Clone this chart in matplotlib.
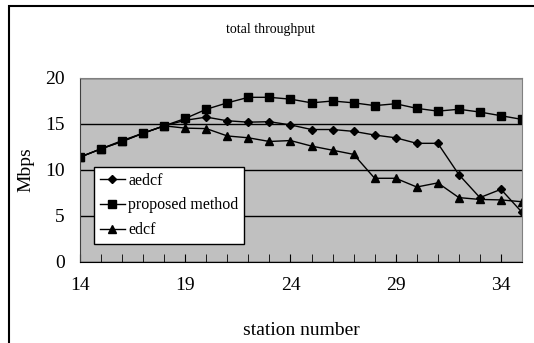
import matplotlib
matplotlib.use("Agg")
import matplotlib.pyplot as plt
from matplotlib.patches import Rectangle

stations = list(range(14, 36))
aedcf = [11.4, 12.3, 13.1, 14.0, 14.8, 15.4, 15.75, 15.35, 15.2, 15.25, 14.9,
         14.4, 14.4, 14.2, 13.8, 13.5, 12.9, 12.9, 9.5, 7.0, 7.9, 5.4]
proposed = [11.4, 12.3, 13.2, 14.0, 14.8, 15.6, 16.6, 17.3, 17.9, 17.9, 17.7,
            17.3, 17.5, 17.3, 17.0, 17.2, 16.7, 16.4, 16.6, 16.3, 15.9, 15.5]
edcf = [11.4, 12.3, 13.1, 14.0, 14.8, 14.55, 14.5, 13.7, 13.5, 13.1, 13.2,
        12.6, 12.15, 11.7, 9.1, 9.1, 8.15, 8.6, 7.0, 6.8, 6.75, 6.55]
xtick_labels = [14, 19, 24, 29, 34]

plt.rcParams["font.family"] = ["Liberation Serif", "DejaVu Serif"]

fig = plt.figure(figsize=(5.34, 3.43), dpi=100)
# outer chart frame
fig.patches.append(Rectangle((9 / 534, -0.01), 1.02, 1 - 6 / 343 + 0.01,
                             transform=fig.transFigure, fill=False,
                             lw=1.5, ec="black"))

ax = fig.add_axes([80 / 534, 1 - 262 / 343, 442 / 534, 184 / 343])
ax.set_facecolor("#c0c0c0")

for y, name, mk, ms in [(aedcf, "aedcf", "D", 4.5),
                        (proposed, "proposed method", "s", 6),
                        (edcf, "edcf", "^", 6)]:
    ax.plot(stations, y, color="black", lw=1, marker=mk, ms=ms,
            label=name)

ax.set_xlim(14, 35)
ax.set_ylim(0, 20)
ax.set_yticks([0, 5, 10, 15, 20])
ax.set_xticks(stations, minor=True)
ax.set_xticks(xtick_labels)
ax.tick_params(axis="y", length=0, labelsize=14, pad=11)
ax.tick_params(axis="x", which="both", length=6, direction="in",
               labelsize=14, pad=11)
ax.yaxis.grid(True, color="black", lw=1)
ax.set_axisbelow(True)
for s in ["top", "right"]:
    ax.spines[s].set_color("#808080")
ax.spines["left"].set_color("#404040")

ax.set_xlabel("station number", fontsize=14, labelpad=20)
ax.set_ylabel("Mbps", fontsize=14, labelpad=8)
fig.text(270 / 534, 1 - 30 / 343, "total throughput", ha="center",
         va="center", fontsize=10)

leg = ax.legend(loc="upper left", bbox_to_anchor=(14 / 442, 95 / 184),
                fontsize=11.5, frameon=True, fancybox=False,
                edgecolor="black", framealpha=1, borderpad=0.35,
                handlelength=1.6, handletextpad=0.2, labelspacing=0.55,
                borderaxespad=0)
leg.get_frame().set_linewidth(1)

fig.savefig("out.png", dpi=100)
